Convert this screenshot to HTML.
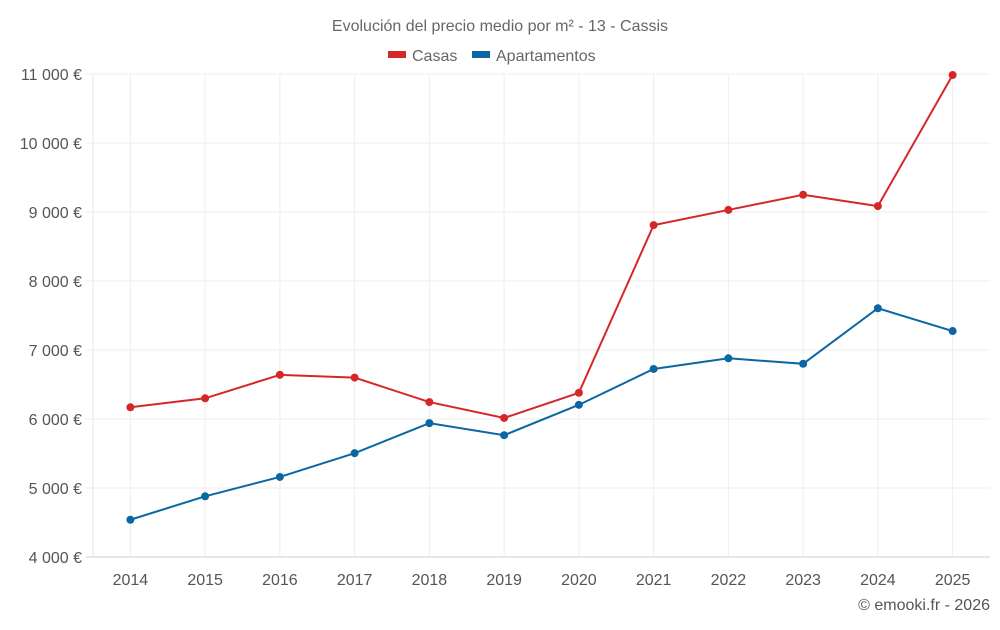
<!DOCTYPE html>
<html><head><meta charset="utf-8"><style>
body{margin:0;background:#fff;font-family:"Liberation Sans",sans-serif;}
svg text{font-family:"Liberation Sans",sans-serif;}
</style></head><body>
<svg id="chart" width="1000" height="625" xmlns="http://www.w3.org/2000/svg">
<text x="500" y="31" text-anchor="middle" font-size="16" fill="#666">Evolución del precio medio por m² - 13 - Cassis</text>
<g>
<g><rect x="388" y="51" width="18" height="7" fill="#d62728"/><text x="412" y="61" font-size="16" fill="#666">Casas</text></g>
<g><rect x="472" y="51" width="18" height="7" fill="#0a67a3"/><text x="496" y="61" font-size="16" fill="#666">Apartamentos</text></g>
</g>
<g id="grid"></g>
<g id="axes"></g>
<g id="series"></g>
<text x="990" y="610" text-anchor="end" font-size="16" fill="#555">© emooki.fr - 2026</text>
</svg>
<script>
const years=[2014,2015,2016,2017,2018,2019,2020,2021,2022,2023,2024,2025];
const casas=[6170,6300,6640,6600,6245,6015,6380,8810,9030,9250,9085,10985];
const apartamentos=[4540,4880,5160,5505,5940,5765,6205,6725,6880,6800,7605,7275];
const yTicks=[4000,5000,6000,7000,8000,9000,10000,11000];
const yTickLabels=["4 000 €","5 000 €","6 000 €","7 000 €","8 000 €","9 000 €","10 000 €","11 000 €"];
const NS="http://www.w3.org/2000/svg";
const L=93,R=990,T=74,B=557,yMin=4000,yMax=11000;
const step=(R-L)/years.length;
function xs(i){return L+step*(i+0.5);}
function ys(v){return B-(v-yMin)/(yMax-yMin)*(B-T);}
function mk(tag,attrs,parent){const e=document.createElementNS(NS,tag);for(const k in attrs)e.setAttribute(k,attrs[k]);parent.appendChild(e);return e;}
const grid=document.getElementById('grid'),axes=document.getElementById('axes'),ser=document.getElementById('series');
yTicks.forEach((t,i)=>{
 const g=mk('line',{x1:L-7,x2:R,y1:ys(t),y2:ys(t),stroke:i===0?'#ccc':'#eee','stroke-width':1},grid);
 
 
 const tx=mk('text',{x:82,y:ys(t)+6,'text-anchor':'end','font-size':16,fill:'#555'},axes);
 tx.textContent=yTickLabels[i];
 
 
});
const lg=mk('line',{x1:L,x2:L,y1:T,y2:B,stroke:'#e6e6e6','stroke-width':1},grid);


years.forEach((y,i)=>{
 const g=mk('line',{x1:xs(i),x2:xs(i),y1:T,y2:B,stroke:'#eee','stroke-width':1},grid);
 
 
 const tx=mk('text',{x:xs(i),y:585,'text-anchor':'middle','font-size':16,fill:'#555'},axes);
 tx.textContent=y;
 
 
});
function drawSeries(vals,color,name){
 const pl=mk('polyline',{points:vals.map((v,i)=>xs(i)+','+ys(v)).join(' '),fill:'none',stroke:color,'stroke-width':2},ser);
 
 
 vals.forEach((v,i)=>{
  const c=mk('circle',{cx:xs(i),cy:ys(v),r:4,fill:color},ser);
  
  
 });
}
drawSeries(casas,'#d62728','casas');
drawSeries(apartamentos,'#0a67a3','apartamentos');
</script>
</body></html>
